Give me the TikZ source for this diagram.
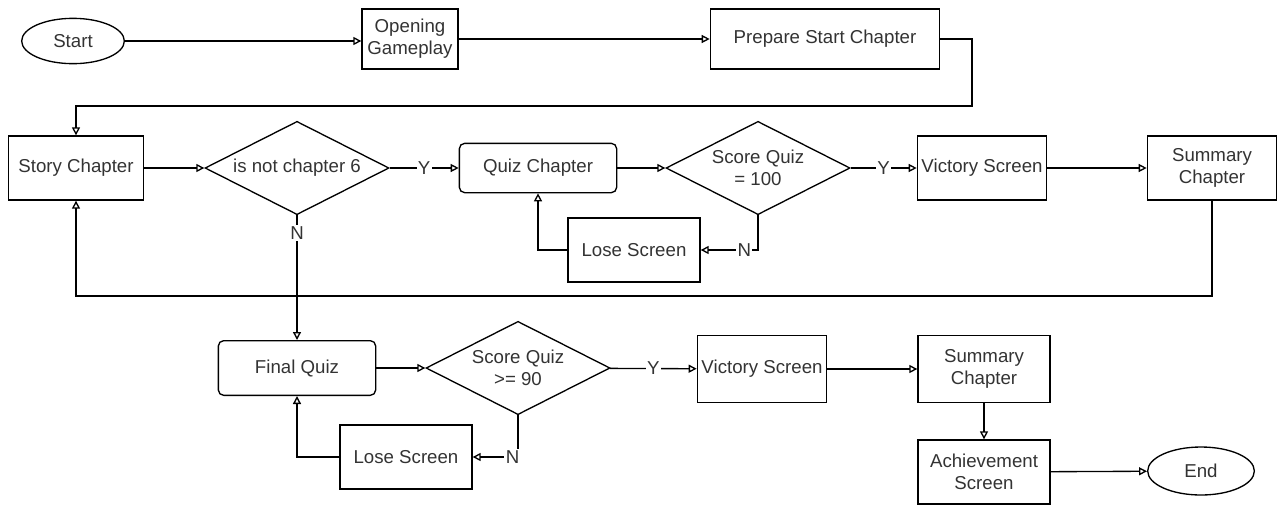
\documentclass[tikz,border=0pt]{standalone}
\usepackage{fontspec}
\setmainfont{Liberation Sans}
\usetikzlibrary{positioning,shapes.geometric,arrows.meta}

\begin{document}
\begin{tikzpicture}[x=0.75pt,y=-0.75pt]
	\tikzset{
		box/.style={
			draw,
			line width=1pt,
			align=center,
			inner sep=2pt,
			text=black!80,
			font=\fontsize{14}{16.5}\selectfont
		},
		rbox/.style={box, rounded corners=4pt},
		term/.style={box, ellipse, inner sep=0pt},
		cond/.style={box, diamond, aspect=2, inner sep=0pt,
			minimum width=138pt, minimum height=70pt},
		flow/.style={
			draw,
			line width=1pt,
			-{Triangle[open,length=6pt,width=6pt]}
		},
		lbl/.style={fill=white, inner sep=1pt, text=black!80,
			font=\fontsize{14}{16.5}\selectfont}
	}
	\useasboundingbox (0,0) rectangle (1280,504);

	% ======= row 1 =======
	\node[term, minimum width=77pt, minimum height=34pt] (start) at (73,41) {Start};
	\node[box, minimum width=72pt, minimum height=45pt] (open) at (410,39) {Opening\\Gameplay};
	\node[box, minimum width=172pt, minimum height=45pt] (prep) at (825,39) {Prepare Start Chapter};

	% ======= row 2 =======
	\node[box, minimum width=101pt, minimum height=48pt] (story) at (76,168) {Story Chapter};
	\node[cond] (d1) at (297,168) {is not chapter 6};
	\node[rbox, minimum width=118pt, minimum height=37pt] (quiz) at (538,168) {Quiz Chapter};
	\node[cond] (d2) at (758,168) {Score Quiz\\= 100};
	\node[box, minimum width=97pt, minimum height=48pt] (vic1) at (982,168) {Victory Screen};
	\node[box, minimum width=97pt, minimum height=48pt] (sum1) at (1212,168) {Summary\\Chapter};
	\node[box, minimum width=99pt, minimum height=48pt] (lose1) at (634,250) {Lose Screen};

	% ======= row 3 =======
	\node[rbox, minimum width=118pt, minimum height=41pt] (final) at (297,368) {Final Quiz};
	\node[cond] (d3) at (518,368) {Score Quiz\\>= 90};
	\node[box, minimum width=97pt, minimum height=50pt] (vic2) at (762,369) {Victory Screen};
	\node[box, minimum width=99pt, minimum height=50pt] (sum2) at (984,369) {Summary\\Chapter};
	\node[box, minimum width=99pt, minimum height=48pt] (ach) at (984,472) {Achievement\\Screen};
	\node[term, minimum width=80pt, minimum height=36pt] (end) at (1201,471) {End};
	\node[box, minimum width=99pt, minimum height=48pt] (lose2) at (406,457) {Lose Screen};

	\coordinate (r1) at (972,106);
	\coordinate (b1) at (76,296);

	% ======= connectors =======
	\draw[flow] (start.east) -- (start.east -| open.west);
	\draw[flow] (open) -- (prep);
	\draw[flow] (prep.east) -| (r1) -| (story.north);
	\draw[flow] (story) -- (d1);
	\draw[flow] (d1) -- node[lbl]{Y} (quiz);
	\draw[flow] (quiz) -- (d2);
	\draw[flow] (d2) -- node[lbl]{Y} (vic1);
	\draw[flow] (vic1) -- (sum1);
	\draw[flow] (d2.south) |- node[lbl, pos=0.62]{N} (lose1.east);
	\draw[flow] (lose1.west) -| (quiz.south);
	\draw[flow] (sum1.south) |- (b1) -- (story.south);
	\draw[flow] (d1.south) -- node[lbl, pos=0.14]{N} (final.north);

	\draw[flow] (final) -- (d3);
	\draw[flow] (d3) -- node[lbl]{Y} (vic2);
	\draw[flow] (vic2) -- (sum2);
	\draw[flow] (sum2) -- (ach);
	\draw[flow] (ach) -- (end);
	\draw[flow] (d3.south) |- node[lbl, pos=0.56]{N} (lose2.east);
	\draw[flow] (lose2.west) -| (final.south);
\end{tikzpicture}
\end{document}
